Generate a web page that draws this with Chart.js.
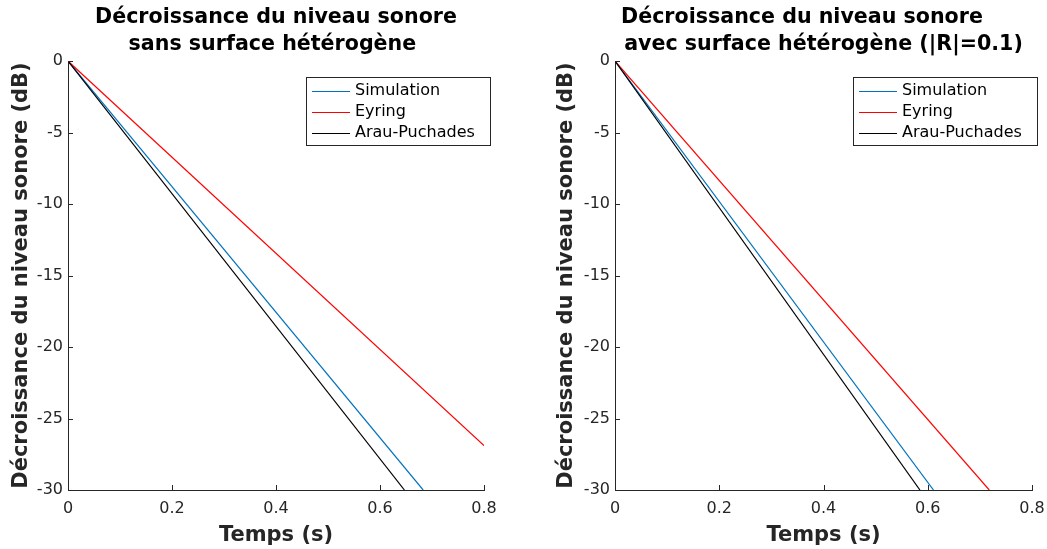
<!DOCTYPE html>
<html>
<head>
<meta charset="utf-8">
<title>Décroissance du niveau sonore</title>
<script src="https://cdn.jsdelivr.net/npm/chart.js@4.4.0/dist/chart.umd.min.js"></script>
<style>
  html, body { margin: 0; padding: 0; background: #fff; }
  #wrap { position: relative; width: 1047px; height: 549px; }
  canvas { position: absolute; top: 0; }
</style>
</head>
<body>
<div id="wrap">
  <canvas id="chart-sans" width="523" height="549" style="left:0"></canvas>
  <canvas id="chart-avec" width="524" height="549" style="left:523px"></canvas>
</div>
<script>
/* Series labels, in plotting order */
const seriesNames = ['Simulation', 'Eyring', 'Arau-Puchades'];

/* Without the heterogeneous surface: time (s) / level (dB) at start and end of each decay */
const sansSimulationT = [0, 0.683];
const sansSimulationDb = [0, -30];
const sansEyringT = [0, 0.8];
const sansEyringDb = [0, -26.9];
const sansArauT = [0, 0.647];
const sansArauDb = [0, -30];

/* With the heterogeneous surface (|R| = 0.1) */
const avecSimulationT = [0, 0.611];
const avecSimulationDb = [0, -30];
const avecEyringT = [0, 0.718];
const avecEyringDb = [0, -30];
const avecArauT = [0, 0.585];
const avecArauDb = [0, -30];

/* Axis ticks */
const xTickValues = [0, 0.2, 0.4, 0.6, 0.8];
const yTickValues = [0, -5, -10, -15, -20, -25, -30];

const COLOURS = {
  simulation: '#0072BD',
  eyring: '#FF0000',
  arau: '#000000',
  axis: '#262626'
};

Chart.defaults.font.family = "'DejaVu Sans', sans-serif";
Chart.defaults.color = COLOURS.axis;

function toPoints(times, levels) {
  return times.map(function(t, i) { return { x: t, y: levels[i] }; });
}

/* MATLAB-style tick marks pointing into the plot area */
const inwardTicks = {
  id: 'inwardTicks',
  afterDatasetsDraw: function(chart) {
    const ctx = chart.ctx, area = chart.chartArea;
    const xs = chart.scales.x, ys = chart.scales.y;
    ctx.save();
    ctx.strokeStyle = COLOURS.axis;
    ctx.lineWidth = 1;
    ctx.beginPath();
    xs.ticks.forEach(function(t) {
      const px = Math.round(xs.getPixelForValue(t.value)) + 0.5;
      ctx.moveTo(px, area.bottom);
      ctx.lineTo(px, area.bottom - 5);
    });
    ys.ticks.forEach(function(t) {
      const py = Math.round(ys.getPixelForValue(t.value)) + 0.5;
      ctx.moveTo(area.left, py);
      ctx.lineTo(area.left + 5, py);
    });
    ctx.stroke();
    ctx.restore();
  }
};

/* Boxed legend in the top-right corner of the axes */
const legendBox = {
  id: 'legendBox',
  afterDraw: function(chart, args, opts) {
    const ctx = chart.ctx, area = chart.chartArea;
    const w = 185, h = 69;
    const left = Math.round(area.right + opts.overhang - w);
    const top = Math.round(area.top + 16);
    ctx.save();
    ctx.fillStyle = '#fff';
    ctx.fillRect(left, top, w, h);
    ctx.strokeStyle = COLOURS.axis;
    ctx.lineWidth = 1;
    ctx.strokeRect(left + 0.5, top + 0.5, w - 1, h - 1);
    ctx.font = "16px 'DejaVu Sans'";
    ctx.textBaseline = 'middle';
    chart.data.datasets.forEach(function(ds, i) {
      const y = top + 14 + i * 21;
      ctx.strokeStyle = ds.borderColor;
      ctx.lineWidth = 1.2;
      ctx.beginPath();
      ctx.moveTo(left + 6, y + 0.5);
      ctx.lineTo(left + 44, y + 0.5);
      ctx.stroke();
      ctx.fillStyle = '#000';
      ctx.fillText(ds.label, left + 49, y);
    });
    ctx.restore();
  }
};

function renderDecayChart(id, opts) {
  const ctx = document.getElementById(id);
  const colours = [COLOURS.simulation, COLOURS.eyring, COLOURS.arau];

  new Chart(ctx, {
    type: 'line',
    data: {
      datasets: opts.series.map(function(s, i) {
        return {
          label: seriesNames[i],
          data: toPoints(s[0], s[1]),
          borderColor: colours[i],
          borderWidth: 1.2,
          pointRadius: 0,
          tension: 0,
          order: 3 - i
        };
      })
    },
    plugins: [inwardTicks, legendBox],
    options: {
      responsive: false,
      animation: false,
      layout: { padding: { left: 0, right: opts.padRight, top: 0, bottom: 0 } },
      plugins: {
        legend: { display: false },
        tooltip: { enabled: false },
        title: {
          display: true,
          fullSize: false,
          text: opts.title,
          color: '#000',
          font: { size: 20.6, weight: 'bold', lineHeight: 1.3 },
          padding: { top: 4.5, bottom: 3 }
        },
        legendBox: { overhang: opts.legendOverhang }
      },
      scales: {
        x: {
          type: 'linear',
          min: 0,
          max: 0.8,
          afterBuildTicks: function(s) { s.ticks = xTickValues.map(function(v) { return { value: v }; }); },
          afterFit: function(s) {
            s.height = 59;
            // let the layout padding alone decide where the axis ends
            s.paddingLeft = 0;
            s.paddingRight = 0;
          },
          grid: { drawOnChartArea: false, drawTicks: false },
          border: { display: true, color: COLOURS.axis, width: 1 },
          ticks: {
            padding: 9,
            color: COLOURS.axis,
            font: { size: 16 },
            maxRotation: 0,
            autoSkip: false,
            callback: function(v) { return String(v); }
          },
          title: {
            display: true,
            text: 'Temps (s)',
            color: COLOURS.axis,
            font: { size: 21, weight: 'bold' },
            padding: { top: 0, bottom: 1 }
          }
        },
        y: {
          type: 'linear',
          min: -30,
          max: 0,
          afterBuildTicks: function(s) { s.ticks = yTickValues.map(function(v) { return { value: v }; }); },
          afterFit: function(s) { s.width = opts.yWidth; },
          grid: { drawOnChartArea: false, drawTicks: false },
          border: { display: true, color: COLOURS.axis, width: 1 },
          ticks: {
            padding: 5,
            color: COLOURS.axis,
            font: { size: 16 },
            autoSkip: false,
            callback: function(v) { return String(v); }
          },
          title: {
            display: true,
            text: 'Décroissance du niveau sonore (dB)',
            color: COLOURS.axis,
            font: { size: 21, weight: 'bold' },
            padding: { top: opts.yTitlePad, bottom: 0 }
          }
        }
      }
    }
  });
}

renderDecayChart('chart-sans', {
  title: ['Décroissance du niveau sonore', 'sans surface hétérogène '],
  series: [
    [sansSimulationT, sansSimulationDb],
    [sansEyringT, sansEyringDb],
    [sansArauT, sansArauDb]
  ],
  yWidth: 68,
  yTitlePad: 9,
  padRight: 39,
  legendOverhang: 7
});

renderDecayChart('chart-avec', {
  title: ['Décroissance du niveau sonore      ', 'avec surface hétérogène (|R|=0.1)'],
  series: [
    [avecSimulationT, avecSimulationDb],
    [avecEyringT, avecEyringDb],
    [avecArauT, avecArauDb]
  ],
  yWidth: 92,
  yTitlePad: 31,
  padRight: 15,
  legendOverhang: 6
});
</script>
</body>
</html>
